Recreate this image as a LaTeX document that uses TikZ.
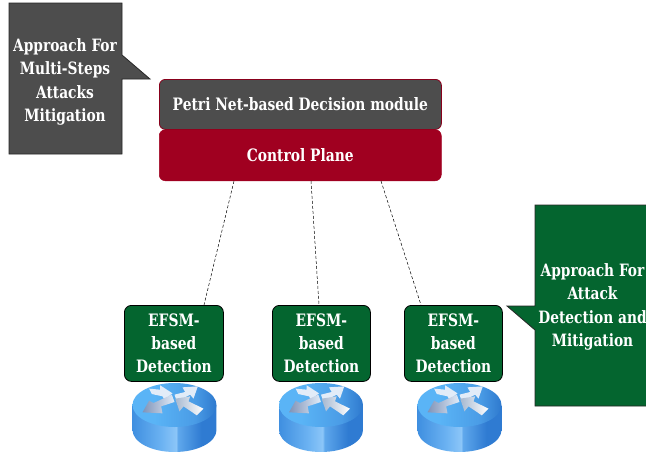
\documentclass[tikz,border=0pt]{standalone}
\usepackage{fontspec}
\setmainfont{DejaVu Serif Condensed}[FakeStretch=0.9]
\usetikzlibrary{calc}
\definecolor{gbox}{HTML}{4D4D4D}
\definecolor{rbox}{HTML}{A00020}
\definecolor{gnbox}{HTML}{04652F}
\definecolor{rA}{HTML}{5AB4F6}
\definecolor{rB}{HTML}{4A9CE6}
\definecolor{rC}{HTML}{2E79CE}
\definecolor{rD}{HTML}{3F8FE0}
\definecolor{rE}{HTML}{6BB2F2}
\definecolor{rF}{HTML}{8CC6F8}
\definecolor{rG}{HTML}{5FA8EC}
\definecolor{rH}{HTML}{2F7BD2}
\definecolor{arrowA}{HTML}{E2ECF8}
\definecolor{arrowB}{HTML}{7F93B8}
\definecolor{arrowC}{HTML}{A6B8D0}
\pgfdeclarehorizontalshading{rtop}{100bp}{color(0bp)=(rA); color(25bp)=(rA); color(38bp)=(rA); color(62bp)=(rB); color(75bp)=(rC); color(100bp)=(rC)}
\pgfdeclarehorizontalshading{rside}{100bp}{color(0bp)=(rD); color(25bp)=(rD); color(42bp)=(rE); color(51bp)=(rF); color(52bp)=(rG); color(66bp)=(rH); color(75bp)=(rH); color(100bp)=(rH)}
\tikzset{
  panel/.style={rounded corners=6pt,minimum width=282pt,inner sep=0pt,text=white,font=\bfseries\fontsize{17.1}{18}\selectfont,anchor=north west},
  efsm/.style={draw=black,line width=.8pt,fill=gnbox,rounded corners=7pt,minimum height=76pt,inner sep=0pt,text=white,align=center,anchor=north west,font=\bfseries\fontsize{17.1}{23}\selectfont},
  callout/.style={draw=black!85,line width=.8pt,line join=miter},
  callouttext/.style={text=white,align=center,inner sep=0pt,font=\bfseries\fontsize{17}{23.3}\selectfont},
  link/.style={draw=black,densely dashed,line width=.5pt},
}
\newcommand{\routerdraw}[1]{%
  \begin{scope}[shift={(#1,405)},x=.3333pt,y=-.3333pt]
    \path[shading=rside] (-126,0) -- (-126,75) arc[start angle=180,end angle=0,x radius=126,y radius=66] -- (126,0) -- cycle;
    \path[shading=rtop] (0,0) ellipse[x radius=126,y radius=66];
    \path[fill=arrowA] (-6,-35) -- (-30,-16) -- (-36,-26) -- (-68,-33) -- (-76,-49) -- (-43,-46) -- (-43,-59) -- cycle;
    \path[fill=arrowA] (70,-56) -- (57,-19) -- (47,-31) -- (7,-11) -- (0,-31) -- (32,-39) -- (24,-53) -- cycle;
    \path[left color=arrowB,right color=arrowA] (-96,22) -- (-76,-13) -- (-63,-6) -- (-8,-31) -- (0,-9) -- (-40,4) -- (-36,25) -- cycle;
    \path[left color=arrowC,right color=white] (2,-19) -- (47,-26) -- (42,-11) -- (87,11) -- (67,31) -- (27,4) -- (15,19) -- cycle;
  \end{scope}}
\begin{document}
\begin{tikzpicture}[x=1pt,y=-1pt]
  \useasboundingbox (0,0) rectangle (646,455);
  \clip (0,0) rectangle (646,455);
  \fill[white] (0,0) rectangle (646,455);

  \draw[callout,fill=gbox] (9,3) -- (122,3) -- (122,55) -- (150,79) -- (122,79) -- (122,154) -- (9,154) -- cycle;
  \node[callouttext] (graytext) at (65,82) {Approach For\\Multi-Steps\\Attacks\\Mitigation};
  \draw[callout,fill=gnbox] (535,205) -- (660,205) -- (660,406) -- (535,406) -- (535,330) -- (507,306) -- (535,306) -- cycle;
  \node[callouttext] (greentext) at (592.5,307) {Approach For\\Attack\\Detection and\\Mitigation};

  \routerdraw{174.5}
  \routerdraw{321}
  \routerdraw{459.5}

  \node[panel,fill=gbox,draw=rbox!85!black,line width=.8pt,minimum height=50pt] (petri) at (159,79) {Petri Net-based Decision module};
  \node[panel,fill=rbox,draw=rbox,line width=.5pt,minimum height=51pt] (control) at (159,129.5) {Control Plane};

  \node[efsm,minimum width=99pt] (e1) at (124,305) {EFSM-\\based\\Detection};
  \node[efsm,minimum width=98pt] (e2) at (272,305) {EFSM-\\based\\Detection};
  \node[efsm,minimum width=98pt] (e3) at (404,305) {EFSM-\\based\\Detection};

  \draw[link] ([xshift=75pt]control.south west) -- ([xshift=80pt]e1.north west);
  \draw[link] ([xshift=152pt]control.south west) -- ([xshift=47pt]e2.north west);
  \draw[link] ([xshift=222pt]control.south west) -- ([xshift=17pt]e3.north west);
\end{tikzpicture}
\end{document}
